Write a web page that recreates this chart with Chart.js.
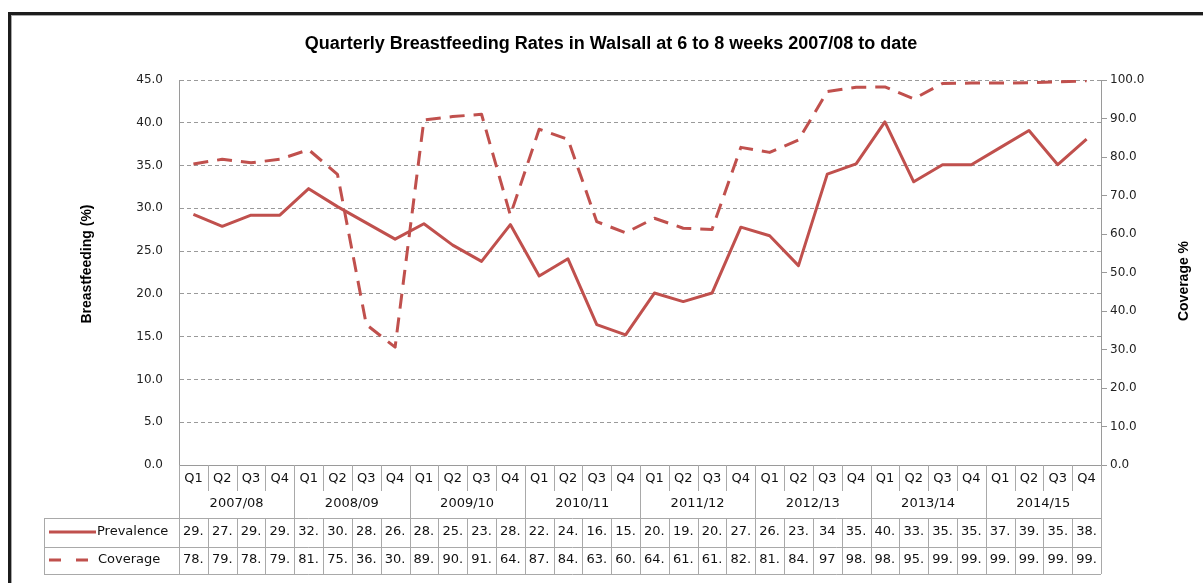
<!DOCTYPE html>
<html>
<head>
<meta charset="utf-8">
<title>Quarterly Breastfeeding Rates in Walsall</title>
<script src="https://cdn.jsdelivr.net/npm/chart.js@4.4.0/dist/chart.umd.min.js"></script>
<style>
  html, body { margin: 0; padding: 0; background: #fff; }
  canvas { display: block; }
</style>
</head>
<body>
<canvas id="bfChart" width="1203" height="583"></canvas>
<script>
const years = ['2007/08', '2008/09', '2009/10', '2010/11', '2011/12', '2012/13', '2013/14', '2014/15'];
const quarters = ['Q1', 'Q2', 'Q3', 'Q4'];

// prevalence (%) and coverage (%) per quarter, 2007/08 Q1 .. 2014/15 Q4
const prevalence = [29.3, 27.9, 29.2, 29.2, 32.3, 30.2, 28.3, 26.4,
                    28.2, 25.7, 23.8, 28.1, 22.1, 24.1, 16.4, 15.2,
                    20.1, 19.1, 20.1, 27.8, 26.8, 23.3, 34, 35.2,
                    40.1, 33.1, 35.1, 35.1, 37.1, 39.1, 35.1, 38.1];
const coverage = [78.2, 79.4, 78.5, 79.4, 81.9, 75.5, 36.5, 30.6,
                  89.6, 90.5, 91.1, 64.9, 87.2, 84.6, 63.2, 60.3,
                  64.1, 61.5, 61.2, 82.5, 81.2, 84.4, 97, 98.1,
                  98.2, 95.1, 99.1, 99.2, 99.2, 99.3, 99.5, 99.8];

const labels = [];
years.forEach(y => quarters.forEach(q => labels.push(y + ' ' + q)));

const red = '#C0504D';
const gridGrey = '#9a9a9a';
const tableGrey = '#a9a9a9';
const tickFont = { family: 'DejaVu Sans', size: 12 };

// excel clips the numbers in narrow cells, "29.4" shows as "29."
const cellText = v => Number.isInteger(v) ? String(v) : Math.trunc(v) + '.';

const tablePlugin = {
    id: 'walsallTable',
    beforeDraw(chart) {
        const { ctx, width, height } = chart;
        ctx.save();
        ctx.fillStyle = '#fff';
        ctx.fillRect(0, 0, width, height);
        // window frame of the screenshot
        ctx.fillStyle = '#1c1c1c';
        ctx.fillRect(8, 12, width - 8, 3);
        ctx.fillRect(8, 12, 3, height - 12);
        ctx.fillStyle = '#a8a8a8';
        ctx.fillRect(11, 15, width - 11, 1);
        ctx.fillRect(11, 15, 1, height - 15);
        ctx.restore();
    },
    afterDraw(chart) {
        const { ctx, chartArea: area, scales: { x } } = chart;
        const cw = x.getPixelForValue(1) - x.getPixelForValue(0);
        const colLeft = i => x.getPixelForValue(i) - cw / 2;
        const top = area.bottom;
        const qBottom = top + 26;
        const rowTop = top + 53;
        const rowMid = rowTop + 29;
        const rowBottom = rowMid + 27;
        const legendLeft = 44;

        ctx.save();
        ctx.strokeStyle = tableGrey;
        ctx.lineWidth = 1;
        const vline = (px, y1, y2) => {
            const xx = Math.round(px) + 0.5;
            ctx.beginPath(); ctx.moveTo(xx, y1); ctx.lineTo(xx, y2); ctx.stroke();
        };
        const hline = (x1, x2, py) => {
            const yy = Math.round(py) + 0.5;
            ctx.beginPath(); ctx.moveTo(x1, yy); ctx.lineTo(x2, yy); ctx.stroke();
        };

        vline(area.left, top, rowBottom);
        vline(area.right, top, rowBottom);
        vline(legendLeft, rowTop, rowBottom);
        for (let i = 1; i < labels.length; i++) {
            if (i % 4 === 0) vline(colLeft(i), top, rowBottom);
            else { vline(colLeft(i), top, qBottom); vline(colLeft(i), rowTop, rowBottom); }
        }
        hline(legendLeft, area.right, rowTop);
        hline(legendLeft, area.right, rowMid);
        hline(legendLeft, area.right, rowBottom);

        ctx.fillStyle = '#111';
        ctx.font = '13px "DejaVu Sans"';
        ctx.textAlign = 'center';
        ctx.textBaseline = 'middle';
        labels.forEach((l, i) => {
            const cx = x.getPixelForValue(i);
            ctx.fillText(quarters[i % 4], cx, top + 14);
            ctx.fillText(cellText(prevalence[i]), cx, rowTop + 14);
            ctx.fillText(cellText(coverage[i]), cx, rowMid + 13);
        });
        years.forEach((y, j) => {
            const cx = (colLeft(j * 4) + colLeft(j * 4 + 4)) / 2;
            ctx.fillText(y, cx, top + 39);
        });

        // legend keys in the data table
        ctx.textAlign = 'left';
        ctx.fillText('Prevalence', 97, rowTop + 14);
        ctx.fillText('Coverage', 98, rowMid + 13);
        ctx.strokeStyle = red;
        ctx.lineWidth = 3;
        ctx.beginPath(); ctx.moveTo(49, rowTop + 14); ctx.lineTo(96, rowTop + 14); ctx.stroke();
        ctx.setLineDash([12, 15]);
        ctx.beginPath(); ctx.moveTo(49, rowMid + 13); ctx.lineTo(91, rowMid + 13); ctx.stroke();
        ctx.setLineDash([]);

        // titles
        ctx.fillStyle = '#000';
        ctx.textAlign = 'center';
        ctx.font = 'bold 18px "Liberation Sans Narrow", "Liberation Sans", sans-serif';
        ctx.fillText('Quarterly Breastfeeding Rates in Walsall at 6 to 8 weeks 2007/08 to date', 611, 44);

        ctx.font = 'bold 14px "Liberation Sans", sans-serif';
        ctx.save();
        ctx.translate(87, 264);
        ctx.rotate(-Math.PI / 2);
        ctx.fillText('Breastfeeding (%)', 0, 0);
        ctx.restore();
        ctx.save();
        ctx.translate(1184, 281);
        ctx.rotate(-Math.PI / 2);
        ctx.fillText('Coverage %', 0, 0);
        ctx.restore();
        ctx.restore();
    }
};

new Chart(document.getElementById('bfChart'), {
    type: 'line',
    data: {
        labels: labels,
        datasets: [{
            label: 'Prevalence',
            data: prevalence,
            yAxisID: 'y',
            borderColor: red,
            borderWidth: 3,
            pointRadius: 0,
            borderJoinStyle: 'round',
            tension: 0
        }, {
            label: 'Coverage',
            data: coverage,
            yAxisID: 'y1',
            borderColor: red,
            borderWidth: 3,
            borderDash: [15, 9],
            pointRadius: 0,
            borderJoinStyle: 'round',
            tension: 0
        }]
    },
    options: {
        responsive: false,
        animation: false,
        devicePixelRatio: 1,
        layout: { padding: { top: 80, left: 0, right: 0, bottom: 0 } },
        plugins: {
            legend: { display: false },
            title: { display: false },
            tooltip: { enabled: false }
        },
        scales: {
            x: {
                offset: true,
                grid: { display: false },
                border: { display: true, color: gridGrey },
                ticks: { display: false },
                afterFit: s => { s.height = 118; }
            },
            y: {
                position: 'left',
                min: 0,
                max: 45,
                ticks: {
                    stepSize: 5,
                    padding: 16,
                    color: '#222',
                    font: tickFont,
                    callback: v => v.toFixed(1)
                },
                grid: { color: gridGrey, drawTicks: false },
                border: { color: gridGrey, dash: [4, 3] },
                afterFit: s => { s.width = 179; }
            },
            y1: {
                position: 'right',
                min: 0,
                max: 100,
                ticks: {
                    stepSize: 10,
                    padding: 3,
                    color: '#222',
                    font: tickFont,
                    callback: v => v.toFixed(1)
                },
                grid: { drawOnChartArea: false, drawTicks: true, tickLength: 6, color: gridGrey },
                border: { color: gridGrey },
                afterFit: s => { s.width = 102; }
            }
        }
    },
    plugins: [tablePlugin]
});
</script>
</body>
</html>
